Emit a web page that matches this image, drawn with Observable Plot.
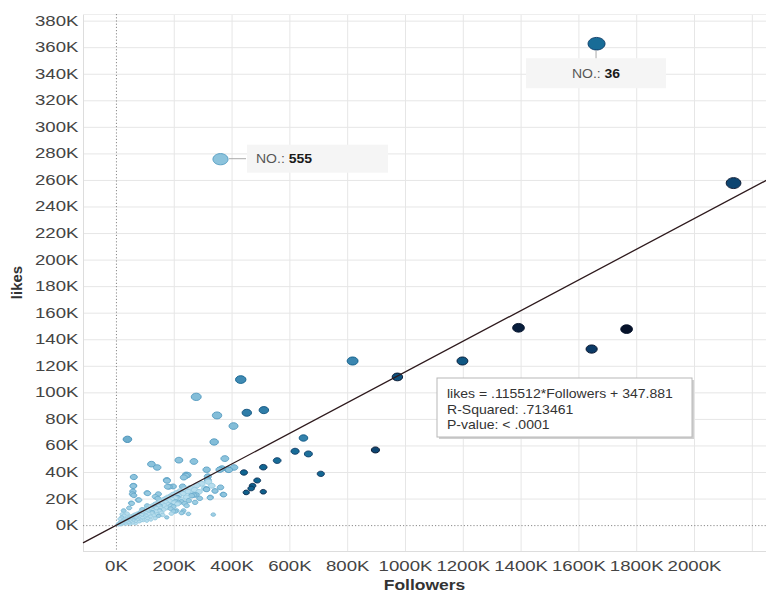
<!DOCTYPE html>
<html><head><meta charset="utf-8">
<script src="https://cdn.jsdelivr.net/npm/d3@7"></script>
<script src="https://cdn.jsdelivr.net/npm/@observablehq/plot@0.6"></script>
<style>
body{margin:0;background:#fff;}
#chart{width:766px;height:593px;}
</style></head><body><div id="chart"></div>
<script>
// ---- values (thousands) ----
const xTickK = [0,200,400,600,800,1000,1200,1400,1600,1800,2000];
const xGridK = [200,400,600,800,1000,1200,1400,1600,1800,2000,2200];
const yTickK = [0,20,40,60,80,100,120,140,160,180,200,220,240,260,280,300,320,340,360,380];

// [followers K, likes K, colour shade 0..1]
const outerRows = [
  [1661,363,.72],[360,276,.3],[2135,258,.86],[1391,149,.97],[1765,148,1],[1644,133,.9],
  [1197,124,.8],[817,124,.6],[972,112,.82],[430,110,.58],[276,97,.33],[451,85,.64],
  [510,87,.64],[348,83,.33],[405,75,.33],[38,65,.4],[338,63,.33],[647,66,.62],
  [618,56,.72],[664,54,.7],[896,57,.86],[556,49,.72],[508,44,.75],[441,40,.75],
  [707,39,.74],[487,34,.75],[471,30,.76],[466,28,.76],[449,25,.77],[508,25.5,.77]
];
const lightRows = [
  [121,46.3,.3],[141,43.8,.3],[216,49.3,.3],[268,48.3,.3],[375,50.5,.3],[407,43.8,.3],
  [386,42.3,.3],[312,42.1,.3],[357,42.1,.3],[316,34.3,.3],[60,36.6,.3],[175,33.8,.28],
  [233,36.3,.28],[246,38.1,.28],[58,29.8,.28],[57,25.8,.28],[60,22.8,.28],[182,29.3,.28],
  [229,29.5,.28],[312,27.3,.28],[341,26.1,.28],[360,28.8,.28],[371,23.3,.28],[324,21,.25],
  [276,23.1,.25],[288,20.5,.25],[75,19.3,.25],[51,17,.22],[106,24.6,.25],[143,20.5,.25],
  [212,21,.25],[177,18.8,.22],[225,18,.22],[236,16.7,.22],[149,15,.2],[189,15,.2],
  [335,8.3,.2],[208,11.3,.2],[225,9.5,.2],[149,11.3,.2],[174,6.2,.2],[146,7.3,.2],
  [124,10,.2],[89,12.2,.2],[106,15,.2],[135,13.7,.2],[79,8.8,.2],[60,4.5,.15],
  [25,11.3,.2],[18,6.2,.15],[241,38.3,.28],[316,37,.28],[365,43,.3],[389,42,.3],
  [196,29.5,.28],[268,23,.25],[311,27.5,.25],[369,23.5,.25],[325,21.3,.25],[204,18,.22],
  [250,18.8,.22],[204,10.7,.2],[229,10,.2],[187,12.8,.2],[59,30,.28],[55,23.8,.25],
  [108,24.3,.25],[174,34.3,.28],[177,29.3,.25],[240,37.5,.28],[145,23.8,.25],[134,21.8,.22],
  [78,19.3,.22],[53,16.7,.22],[44,13.3,.2],[203,21.3,.22],[215,17,.22],[197,14.3,.2],
  [260,22.5,.25],[272,17.5,.22],[243,15,.2],[232,11.3,.2],[249,8.8,.2],[197,10.7,.2]
];
const tinyRows = [
  [3,0.8],[6,1.5],[8,0.5],[10,2.2],[12,1.0],[14,2.8],[15,0.6],[17,1.9],[19,3.4],[20,1.2],
  [22,2.6],[24,4.0],[25,1.5],[27,3.1],[29,2.0],[30,4.6],[32,3.3],[33,1.1],[35,5.2],[36,2.7],
  [38,4.1],[40,3.0],[41,6.0],[43,4.8],[44,2.2],[46,5.5],[48,3.6],[49,7.0],[51,4.4],[53,6.2],
  [54,2.9],[56,5.1],[58,7.6],[59,3.8],[61,6.6],[63,4.7],[64,8.3],[66,5.6],[68,3.2],[69,7.4],
  [71,6.0],[73,9.0],[74,4.5],[76,7.2],[78,5.3],[80,8.8],[82,6.4],[83,10.2],[85,3.9],[87,7.9],
  [89,9.6],[90,5.8],[92,11.0],[94,8.2],[96,6.3],[98,10.4],[100,12.3],[102,7.5],[104,9.3],[106,13.0],
  [108,5.4],[110,11.2],[112,8.6],[114,14.1],[116,10.0],[118,6.8],[120,12.6],[123,9.1],[125,15.0],[127,11.5],
  [130,7.7],[132,13.9],[134,16.2],[136,10.6],[139,12.9],[141,8.4],[143,17.0],[146,14.4],[148,11.0],[151,18.3],
  [153,13.2],[156,9.6],[158,16.5],[161,19.4],[163,12.1],[166,15.1],[169,20.2],[171,17.5],[174,13.4],[177,21.3],
  [180,16.0],[183,18.6],[186,22.0],[189,14.5],[192,19.7],[195,23.4],[199,17.2],[203,20.8],[207,24.6],[211,16.3],
  [215,22.5],[220,26.0],[225,19.5],[230,24.0],[236,27.5],[242,21.5],[248,25.6],[255,28.4],[262,23.7],[270,27.0],
  [278,30.2],[286,25.5],[295,31.5],[305,28.0],[318,33.0],[330,30.0],[26,7.5],[37,9.0],[47,1.0],[57,2.0],
  [67,1.5],[79,3.0],[93,4.0],[105,3.5],[119,4.5],[134,5.5],[160,8.0],[190,9.0],[12,5.0],[20,8.5]
];
const tinyShade = 0.08;

// regression reported in the chart
const regSlope = 0.115512, regIntercept = 347.881;
const regText = ["likes = .115512*Followers + 347.881", "R-Squared: .713461", "P-value: < .0001"];
const callouts = [{no:"36", f:1661, l:363, side:"below"}, {no:"555", f:360, l:276, side:"right"}];

// ---- build ----
const toRow = ([f,l,s]) => ({followers:f*1000, likes:l*1000, shade:s});
const points = [
  ...tinyRows.map(r => toRow([r[0], r[1], tinyShade])),
  ...lightRows.map(toRow),
  ...outerRows.map(toRow)
];
const xDomain = [-114000, 2249000];
const yDomain = [-19500, 385000];
const regLine = xDomain.map(x => ({x, y: regSlope*x + regIntercept}));

const ellipse = {draw(ctx, size){
  const r = Math.sqrt(size/Math.PI), rx = r*1.35, ry = r, k = 0.5523;
  ctx.moveTo(rx,0);
  ctx.bezierCurveTo(rx, ry*k, rx*k, ry, 0, ry);
  ctx.bezierCurveTo(-rx*k, ry, -rx, ry*k, -rx, 0);
  ctx.bezierCurveTo(-rx, -ry*k, -rx*k, -ry, 0, -ry);
  ctx.bezierCurveTo(rx*k, -ry, rx, -ry*k, rx, 0);
  ctx.closePath();
}};

const fmtK = d => (d/1000) + "K";
const FONT = "'Liberation Sans', Arial, sans-serif";

const chart = Plot.plot({
  width: 766, height: 593,
  marginLeft: 83, marginRight: 0, marginTop: 14, marginBottom: 42,
  style: {fontFamily: FONT, background: "#fff"},
  x: {domain: xDomain, axis: null},
  y: {domain: yDomain, axis: null},
  r: {type: "sqrt", domain: [0, 363000], range: [0.9, 6.3]},
  color: {type: "linear", domain: [0,.15,.3,.45,.6,.75,.9,1],
          range: ["#c6e6f3","#a9d5e8","#8cc3dc","#5ea3c6","#3a86b0","#106591","#0c3a66","#06122a"]},
  marks: [
    Plot.gridX(xGridK.map(v=>v*1000), {stroke:"#e6e6e6", strokeOpacity:1}),
    Plot.gridY(yTickK.filter(v=>v>0).map(v=>v*1000), {stroke:"#e6e6e6", strokeOpacity:1}),
    Plot.ruleX([xDomain[0]], {stroke:"#dddddd"}),
    Plot.ruleY([yDomain[0]], {stroke:"#dddddd"}),
    Plot.ruleY([yDomain[1]], {stroke:"#eeeeee"}),
    Plot.ruleX([0], {stroke:"#8a8a8a", strokeDasharray:"1.2,2", strokeWidth:1}),
    Plot.ruleY([0], {stroke:"#8a8a8a", strokeDasharray:"1.2,2", strokeWidth:1}),
    Plot.axisX(xTickK.map(v=>v*1000), {tickSize:0, tickPadding:10, tickFormat: fmtK, label:null,
      fontSize:14, fill:"#444"}),
    Plot.axisY(yTickK.map(v=>v*1000), {tickSize:0, tickPadding:5, tickFormat: fmtK, label:null,
      fontSize:14, fill:"#444"}),
    Plot.dot(points, {x:"followers", y:"likes", r:"likes", fill:"shade", symbol: ellipse,
      stroke: d => Math.min(1, d.shade + 0.18), strokeWidth: 0.9}),
    Plot.line(regLine, {x:"x", y:"y", stroke:"#2e1a1d", strokeWidth:1.3})
  ]
});
document.getElementById("chart").appendChild(chart);

const svg = d3.select(chart);
// horizontal stretch of tick labels as in the reference
svg.selectAll("g[aria-label='x-axis tick label'] text, g[aria-label='y-axis tick label'] text")
  .each(function(){
    const t = this.getAttribute("transform") || "";
    this.setAttribute("transform", t + " scale(1.33,1)");
  });

const sx = chart.scale("x"), sy = chart.scale("y");
const X = v => sx.apply(v), Y = v => sy.apply(v);

// axis titles
const frameCx = (83 + 766) / 2;
svg.append("text").attr("transform", `translate(${frameCx},590) scale(1.25,1)`)
  .attr("text-anchor","middle").attr("font-family",FONT).attr("font-weight","bold")
  .attr("font-size",14).attr("fill","#333").text("Followers");
svg.append("text").attr("transform", `translate(22,${(14+551)/2}) rotate(-90)`)
  .attr("text-anchor","middle").attr("font-family",FONT).attr("font-weight","bold")
  .attr("font-size",15).attr("fill","#333").text("likes");

// callouts
const ann = svg.append("g").attr("font-family", FONT);
for (const c of callouts) {
  const px = X(c.f*1000), py = Y(c.l*1000);
  let tx, ty, anchor;
  if (c.side === "right") {
    ann.append("line").attr("x1",px+9).attr("x2",px+26).attr("y1",py).attr("y2",py).attr("stroke","#aaa");
    ann.append("rect").attr("x",px+27).attr("y",py-14).attr("width",141).attr("height",28).attr("fill","#f5f5f5");
    tx = px+36; ty = py; anchor = "start";
  } else {
    ann.append("line").attr("x1",px).attr("x2",px).attr("y1",py+7).attr("y2",py+17).attr("stroke","#aaa");
    ann.append("rect").attr("x",px-70).attr("y",py+15).attr("width",140).attr("height",30).attr("fill","#f5f5f5");
    tx = px; ty = py+30; anchor = "middle";
  }
  const t = ann.append("text").attr("transform",`translate(${tx},${ty}) scale(1.12,1)`)
    .attr("text-anchor",anchor).attr("dy","0.35em").attr("font-size",12.5);
  t.append("tspan").attr("fill","#555").text("NO.: ");
  t.append("tspan").attr("fill","#1a1a1a").attr("font-weight","600").text(c.no);
}

// regression tooltip box
const rb = {x: 437, y: 378, w: 255, h: 59};
const box = svg.append("g").attr("font-family", FONT);
box.append("rect").attr("x",rb.x+2).attr("y",rb.y+2).attr("width",rb.w).attr("height",rb.h).attr("fill","#d0d0d0");
box.append("rect").attr("x",rb.x).attr("y",rb.y).attr("width",rb.w).attr("height",rb.h)
  .attr("fill","#fff").attr("stroke","#b8b8b8");
regText.forEach((s,i) => {
  box.append("text").attr("transform",`translate(${rb.x+10},${rb.y+16+i*15.5}) scale(1.17,1)`)
    .attr("text-anchor","start").attr("dy","0.35em").attr("font-size",12).attr("fill","#333").text(s);
});
</script></body></html>
